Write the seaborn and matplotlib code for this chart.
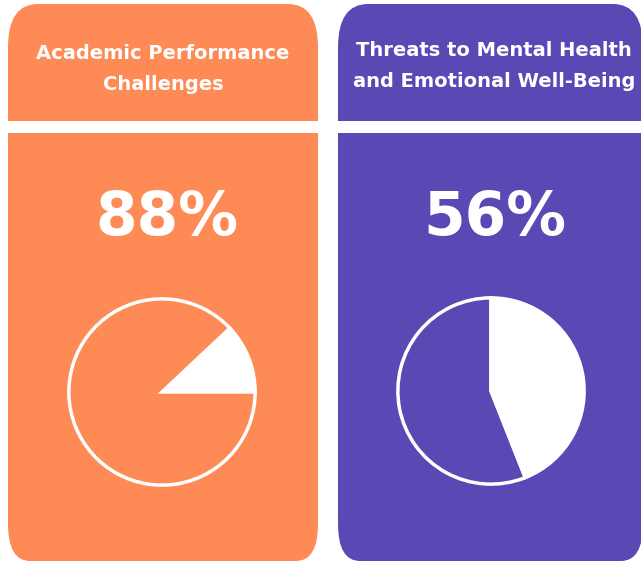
import matplotlib
matplotlib.use("Agg")
import matplotlib.pyplot as plt
from matplotlib.patches import FancyBboxPatch, Rectangle
import seaborn as sns

# ---- data ----
titles = ["Academic Performance\nChallenges", "Threats to Mental Health\nand Emotional Well-Being"]
percents = [88, 56]
card_colors = ["#FE8A55", "#5A49B5"]

sns.set_theme(style="white")
plt.rcParams['font.family'] = ['DejaVu Sans']

W, H = 641, 562
fig = plt.figure(figsize=(W / 100, H / 100), dpi=100)
fig.patch.set_facecolor("white")
bg = fig.add_axes([0, 0, 1, 1])
bg.set_xlim(0, W)
bg.set_ylim(H, 0)
bg.axis("off")

# layout
card_lefts = [8, 338]
card_rights = [318, 643]
card_top = 4
header_bottom = 121
gap_bottom = 133
card_bottom = 561
pie_centers = [(162, 392), (491, 391)]
pie_r = 95
start_angles = [0, 90]
text_x = [163, 494]
text_y = [69, 66]
big_x = [167, 495]

for i, (title, pct, col) in enumerate(zip(titles, percents, card_colors)):
    x0, x1 = card_lefts[i], card_rights[i]
    w = x1 - x0
    # header with rounded top corners (bottom corners hidden by body)
    bg.add_patch(FancyBboxPatch((x0, card_top), w, 260,
                                boxstyle="round,pad=0,rounding_size=30",
                                mutation_aspect=1.45, fc=col, ec="none", zorder=1))
    # body with rounded bottom corners (top corners hidden by header)
    bg.add_patch(FancyBboxPatch((x0, 126), w, card_bottom - 126,
                                boxstyle="round,pad=0,rounding_size=22",
                                mutation_aspect=1.7, fc=col, ec="none", zorder=1))
    # white gap
    bg.add_patch(Rectangle((x0 - 2, header_bottom), w + 4, gap_bottom - header_bottom,
                           fc="white", ec="none", zorder=2))
    bg.text(text_x[i], text_y[i], title, ha="center", va="center", color="white",
            fontsize=14, fontweight="bold", linespacing=1.83, zorder=3)
    bg.text(big_x[i], 218, f"{pct}%", ha="center", va="center", color="white",
            fontsize=43, fontweight="bold", zorder=3)

    # pie
    pcx, pcy = pie_centers[i]
    pax = fig.add_axes([(pcx - pie_r) / W, (H - pcy - pie_r) / H, 2 * pie_r / W, 2 * pie_r / H])
    if i == 0:
        vals = [100 - pct, pct]
        cols = ["white", col]
    else:
        vals = [pct, 100 - pct]
        cols = [col, "white"]
    pax.pie(vals, colors=cols, startangle=start_angles[i], counterclock=True,
            wedgeprops=dict(edgecolor="white", linewidth=2.5))
    pax.set_xlim(-1.02, 1.02)
    pax.set_ylim(-1.02, 1.02)
    pax.set_aspect("equal")
    pax.axis("off")

fig.savefig("out.png", dpi=100, facecolor="white")
